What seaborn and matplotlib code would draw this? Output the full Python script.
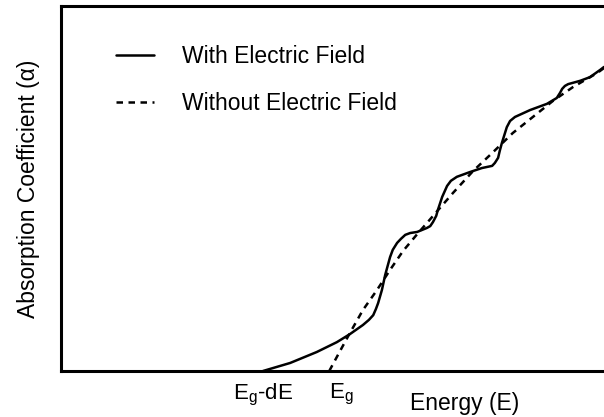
import matplotlib
matplotlib.use("Agg")
import matplotlib.pyplot as plt
import numpy as np
import pandas as pd
import seaborn as sns

# Absorption edge with and without an applied electric field (arbitrary units)
energy_field = [3.72, 4.22, 4.71, 5.08, 5.32, 5.56, 5.67, 5.75, 5.80, 5.84, 5.91,
                5.97, 6.06, 6.11, 6.19, 6.26, 6.34, 6.43, 6.56, 6.74, 6.80, 6.85,
                6.91, 6.94, 7.02, 7.11, 7.18, 7.29, 7.53, 7.75, 7.94, 7.99, 8.05,
                8.08, 8.12, 8.21, 8.27, 8.36, 8.64, 8.95, 9.13, 9.19, 9.23, 9.28,
                9.34, 9.56, 9.74, 9.93, 10.0]
alpha_field = [0.00, 0.22, 0.52, 0.79, 1.01, 1.26, 1.40, 1.53, 1.70, 1.86, 2.22,
               2.63, 3.12, 3.32, 3.51, 3.62, 3.73, 3.78, 3.81, 3.92, 3.97, 4.08,
               4.25, 4.41, 4.77, 5.07, 5.21, 5.32, 5.45, 5.56, 5.62, 5.70, 5.84,
               6.03, 6.25, 6.68, 6.85, 6.96, 7.15, 7.32, 7.48, 7.62, 7.73, 7.81,
               7.86, 7.95, 8.05, 8.25, 8.33]

energy_nofield = [4.94, 5.14, 5.32, 5.56, 5.82, 6.06, 6.30, 6.56, 6.80, 7.22,
                  7.59, 7.96, 8.32, 8.69, 9.06, 9.43, 9.87, 10.0]
alpha_nofield = [0.00, 0.55, 1.04, 1.67, 2.22, 2.77, 3.29, 3.75, 4.16, 4.88,
                 5.48, 6.00, 6.52, 6.96, 7.40, 7.78, 8.16, 8.30]

series_names = ["With Electric Field", "Without Electric Field"]
tick_positions = [3.72, 4.94]
tick_labels = [r"$\mathregular{E_g}$-dE", r"$\mathregular{E_g}$"]

df = pd.concat([
    pd.DataFrame({"E": energy_field, "alpha": alpha_field, "series": series_names[0]}),
    pd.DataFrame({"E": energy_nofield, "alpha": alpha_nofield, "series": series_names[1]}),
], ignore_index=True)

sns.set_theme(style="white")
plt.rcParams["font.family"] = ["Liberation Sans", "DejaVu Sans"]
plt.rcParams["mathtext.fontset"] = "custom"
plt.rcParams["mathtext.rm"] = "Liberation Sans"
plt.rcParams["text.color"] = "black"
plt.rcParams["axes.labelcolor"] = "black"
plt.rcParams["xtick.color"] = "black"
plt.rcParams["xtick.labelcolor"] = "black"

fig = plt.figure(figsize=(6.04, 4.17), dpi=100)
ax = fig.add_axes([61 / 604, 46 / 417, 1 - 61 / 604, 365 / 417])

sns.lineplot(data=df, x="E", y="alpha", style="series", sort=False,
             dashes={series_names[0]: "", series_names[1]: (2.6, 2.2)},
             color="black", linewidth=1.8, ax=ax, estimator=None)
for line in ax.get_lines():
    line.set_solid_joinstyle("round")
    line.set_solid_capstyle("round")

ax.set_xlim(0, 10)
ax.set_ylim(0, 10)
ax.set_yticks([])
ax.set_xticks(tick_positions)
ax.set_xticklabels(tick_labels, fontsize=16, color="black")
ax.get_xticklabels()[1].set_horizontalalignment("left")
ax.tick_params(axis="x", length=0, pad=8)

ax.set_xlabel("Energy (E)", fontsize=16.5, color="black")
ax.xaxis.set_label_coords(0.744, -0.058)
ax.set_ylabel("Absorption Coefficient (\u03b1)", fontsize=16.5, labelpad=15,
              color="black")

for side in ["left", "top", "bottom"]:
    ax.spines[side].set_linewidth(2.2)
    ax.spines[side].set_color("black")
ax.spines["right"].set_visible(False)

handles, labels = ax.get_legend_handles_labels()
leg = ax.legend(handles, labels, loc="upper left", bbox_to_anchor=(0.085, 0.919),
                frameon=False, fontsize=16.5, handlelength=1.65, handletextpad=1.2,
                labelspacing=1.05, borderaxespad=0)
for text in leg.get_texts():
    text.set_color("black")

fig.savefig("out.png", dpi=100)
